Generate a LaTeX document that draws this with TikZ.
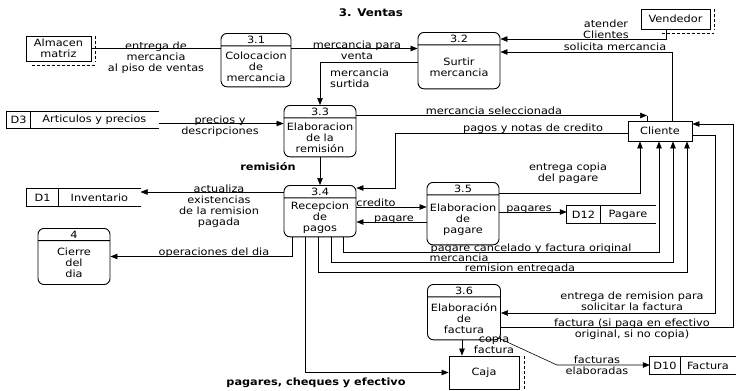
\documentclass[tikz,border=0pt]{standalone}
\usepackage{fontspec}
\setmainfont[FakeStretch=1.13]{DejaVu Sans}
\usetikzlibrary{arrows.meta,shapes.multipart,positioning}
\newcommand{\procbody}[2]{\parbox[c][#1][c]{\hsize}{\centering #2}}
\tikzset{
  proc/.style={draw, line width=0.9pt, rounded corners=6pt, rectangle split, rectangle split parts=2,
    align=center, text width=#1, inner xsep=2pt, inner ysep=2pt, anchor=north},
  ext/.style={draw, line width=0.9pt, align=center, inner sep=1pt},
  dup/.style={densely dashed, line width=0.5pt},
  storeid/.style={minimum height=17pt, inner sep=0pt},
  storetxt/.style={minimum height=17pt, inner sep=0pt},
  outline/.style={line width=0.9pt},
  plain/.style={line width=0.6pt},
  flow/.style={line width=0.6pt, -{Triangle[length=7pt,width=5.5pt]}},
  lbl/.style={inner sep=0pt, align=center, anchor=north},
  lblb/.style={lbl, font=\fontsize{10}{11}\selectfont\bfseries}
}
\begin{document}
\begin{tikzpicture}[x=1pt, y=-1pt, font=\fontsize{10}{11}\selectfont]
\useasboundingbox (0,0) rectangle (737,391);
\node[font=\fontsize{10.5}{12}\selectfont\bfseries] (title) at (371,13) {3. Ventas};

\node[ext, minimum width=65pt, minimum height=25pt] (alm) at (58.5,48.5) {Almacen\\matriz};
\node[ext, minimum width=69pt, minimum height=20pt] (vend) at (675.5,19) {Vendedor};
\node[ext, minimum width=64pt, minimum height=20pt] (cli) at (660,131) {Cliente};
\node[ext, minimum width=70pt, minimum height=33pt] (caja) at (484,372.5) {Caja};
\draw[dup] ([xshift=4pt]alm.north east) -- ([xshift=4pt]alm.south east);
\draw[dup] ([shift={(6pt,-4pt)}]alm.south west) -- ([shift={(4pt,-4pt)}]alm.south east);
\draw[dup] ([xshift=4pt]vend.north east) -- ([xshift=4pt]vend.south east);
\draw[dup] ([shift={(-14pt,-4pt)}]vend.south) -- ([shift={(4pt,-4pt)}]vend.south east);
\draw[dup] ([xshift=5pt]caja.north east) -- ([xshift=5pt]caja.south east);

\node[proc=66pt] (p31) at (256,33) {3.1\nodepart{two}\procbody{36pt}{Colocacion\\de\\mercancia}};
\node[proc=78pt] (p32) at (459,32) {3.2\nodepart{two}\procbody{39pt}{Surtir\\mercancia}};
\node[proc=68pt] (p33) at (320,105) {3.3\nodepart{two}\procbody{34pt}{Elaboracion\\de la\\remisión}};
\node[proc=68pt] (p34) at (320,185) {3.4\nodepart{two}\procbody{34pt}{Recepcion\\de\\pagos}};
\node[proc=68pt] (p35) at (463,182) {3.5\nodepart{two}\procbody{45pt}{Elaboracion\\de\\pagare}};
\node[proc=69pt] (p36) at (464,284) {3.6\nodepart{two}\procbody{38pt}{Elaboración\\de\\factura}};
\node[proc=68pt] (p4) at (74,228) {4\nodepart{two}\procbody{39pt}{Cierre\\del\\dia}};

\node[storeid, minimum width=23pt] (d3id) at (18.5,120) {D3};
\node[storetxt, minimum width=128pt, right=0pt of d3id] (d3) {Articulos y precios};
\node[storeid, minimum width=31pt] (d1id) at (42.5,197.5) {D1};
\node[storetxt, minimum width=82pt, right=0pt of d1id] (d1) {Inventario};
\node[storeid, minimum width=33pt] (d12id) at (583.5,214.5) {D12};
\node[storetxt, minimum width=55pt, right=0pt of d12id] (d12) {Pagare};
\node[storeid, minimum width=30pt] (d10id) at (665,365.5) {D10};
\node[storetxt, minimum width=55pt, right=0pt of d10id] (d10) {Factura};
\foreach \s in {d3,d1,d12,d10}{
  \draw[outline] (\s.north east) -- (\s id.north west) -- (\s id.south west) -- (\s.south east);
  \draw[outline] (\s id.north east) -- (\s id.south east);
}

\draw[plain] (alm.east) -- (alm.east -| p31.west);
\draw[flow] (p31.east |- alm.east) -- (p32.west |- alm.east);
\draw[flow] (p32.west |- 0,62) -| (p33.north);
\draw[flow] ([xshift=-9pt]vend.south) |- (p32.east |- 0,39);
\draw[flow] ([xshift=12pt]cli.north) |- (p32.east |- 0,52);
\draw[flow] (p33.east |- 0,115.5) -- (647,115.5);
\draw[plain] (647,115.5) -- (cli.north -| 647,0);
\draw[flow] (d3.east |- 0,123.5) -- (p33.west |- 0,123.5);
\draw[flow] (cli.west |- 0,133) -| (395,188) -- (p34.east |- 0,188);
\draw[flow] (p33.south) -- (p34.north);
\draw[flow] (p34.west |- 0,192) -- (d1.east |- 0,192);
\draw[flow] (p34.south -| 292,0) |- (p4.east);
\draw[flow] (p34.south -| 305,0) |- (caja.west);
\draw[flow] (p34.south -| 343,0) -- (343,252.5) -| (cli.south -| 659,0);
\draw[flow] (p34.south -| 331,0) -- (331,262.5) -| (cli.south -| 673,0);
\draw[flow] (p34.south -| 318,0) -- (318,272.5) -| (cli.south -| 687,0);
\draw[flow] (p35.east |- 0,193) -| (cli.south -| 640,0);
\draw[flow] (p34.east |- 0,207) -- (p35.west |- 0,207);
\draw[flow] (p35.west |- 0,222) -- (p34.east |- 0,222);
\draw[flow] (p35.east |- 0,212) -- (d12id.west |- 0,212);
\draw[flow] (p36.south -| 462,0) -- (caja.north -| 462,0);
\draw[flow] ([shift={(-2pt,2pt)}]p36.south east) -- (557,365) -- (d10id.west |- 0,365);
\draw[flow] (cli.east |- 0,135) -| (715,313) -- (p36.east |- 0,313);
\draw[flow] (p36.east |- 0,327) -| (733,124) -- (cli.east |- 0,124);

\node[lbl] (lentrega) at (156,41.5) {entrega de\\mercancia\\al piso de ventas};
\node[lbl] (lventa) at (357,41) {mercancia para\\venta};
\node[lbl, align=left, anchor=north west] (lsurtida) at (330,69) {mercancia\\surtida};
\node[lbl] (latender) at (606,20) {atender\\Clientes};
\node[lbl] (lsolicita) at (615,43) {solicita mercancia};
\node[lbl] (lselecc) at (494,107) {mercancia seleccionada};
\node[lbl] (lprecios) at (220,116) {precios y\\descripciones};
\node[lbl] (lpagos) at (533,124) {pagos y notas de credito};
\node[lblb] (lremision) at (268,162) {remisión};
\node[lbl] (lactualiza) at (219,185) {actualiza\\existencias\\de la remision\\pagada};
\node[lbl] (lcopiap) at (568,163) {entrega copia\\del pagare};
\node[lbl] (lcredito) at (376,199) {credito};
\node[lbl] (lpagare) at (394,215.5) {pagare};
\node[lbl] (lpagares) at (529,205.5) {pagares};
\node[lbl] (loper) at (214,248) {operaciones del dia};
\node[lbl] (lcancel) at (531,244) {pagare cancelado y factura original};
\node[lbl] (lmerc) at (459,254) {mercancia};
\node[lbl] (lentregada) at (520,264) {remision entregada};
\node[lbl] (lsolfact) at (632,292) {entrega de remision para\\solicitar la factura};
\node[lbl] (lfactura) at (632,319) {factura (si paga en efectivo\\original, si no copia)};
\node[lbl] (lcopiaf) at (494,335) {copia\\factura};
\node[lbl] (lfacturas) at (597,356) {facturas\\elaboradas};
\node[lblb] (lcheques) at (316,378) {pagares, cheques y efectivo};
\end{tikzpicture}
\end{document}
